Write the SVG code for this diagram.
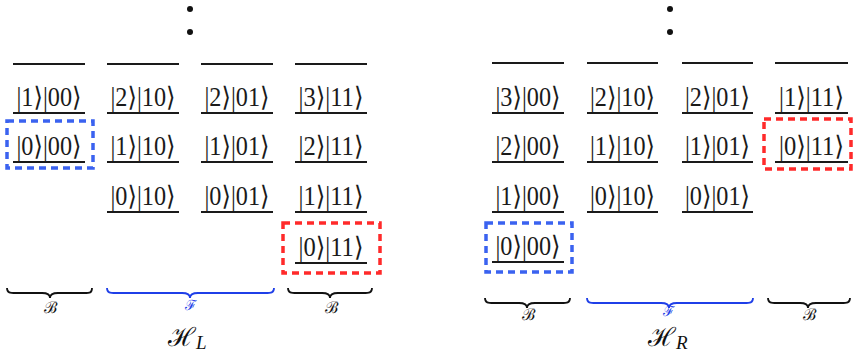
<svg xmlns="http://www.w3.org/2000/svg" width="853" height="356" viewBox="0 0 853 356">
<style>
.lv{stroke:#1a1a1a;stroke-width:2;fill:none}
.k{font-family:"Liberation Serif","DejaVu Serif",serif;font-size:27px;fill:#1a1a1a;text-anchor:middle}
.bb{fill:none;stroke:#3a62f0;stroke-width:3.5;stroke-dasharray:7 5}
.rb{fill:none;stroke:#ff2a2a;stroke-width:3.5;stroke-dasharray:7 5}
.br{fill:none;stroke:#111;stroke-width:1.8}
.bf{fill:none;stroke:#1f3fe8;stroke-width:1.8}
.lb{font-family:"DejaVu Serif","Liberation Serif",serif;font-size:16px;fill:#111;text-anchor:middle}
.lf{font-family:"DejaVu Serif","Liberation Serif",serif;font-size:14px;fill:#1f3fe8;text-anchor:middle}
.h{font-family:"DejaVu Serif","Liberation Serif",serif;font-size:26px;fill:#111}
.hs{font-family:"Liberation Serif","DejaVu Serif",serif;font-style:italic;font-size:19px;fill:#111}
</style>
<g id="dotsL"><circle cx="190" cy="9" r="3" fill="#111"/><circle cx="190" cy="32" r="3" fill="#111"/></g>
<g id="dotsR"><circle cx="670" cy="9" r="3" fill="#111"/><circle cx="670" cy="32" r="3" fill="#111"/></g>

<!-- Left H_L -->
<g id="L-col1">
<line class="lv" x1="13" y1="64" x2="85" y2="64"/>
<g id="L-1-00"><text class="k" x="49" y="106" textLength="65" lengthAdjust="spacingAndGlyphs">|1⟩|00⟩</text><line class="lv" x1="13" y1="113" x2="85" y2="113"/></g>
<g id="L-0-00"><text class="k" x="49" y="155" textLength="65" lengthAdjust="spacingAndGlyphs">|0⟩|00⟩</text><line class="lv" x1="13" y1="162" x2="85" y2="162"/><rect class="bb" x="7" y="121" width="86" height="47"/></g>
</g>
<g id="L-col2">
<line class="lv" x1="107" y1="64" x2="179" y2="64"/>
<g id="L-2-10"><text class="k" x="143" y="106" textLength="65" lengthAdjust="spacingAndGlyphs">|2⟩|10⟩</text><line class="lv" x1="107" y1="113" x2="179" y2="113"/></g>
<g id="L-1-10"><text class="k" x="143" y="155" textLength="65" lengthAdjust="spacingAndGlyphs">|1⟩|10⟩</text><line class="lv" x1="107" y1="162" x2="179" y2="162"/></g>
<g id="L-0-10"><text class="k" x="143" y="205" textLength="65" lengthAdjust="spacingAndGlyphs">|0⟩|10⟩</text><line class="lv" x1="107" y1="212" x2="179" y2="212"/></g>
</g>
<g id="L-col3">
<line class="lv" x1="201" y1="64" x2="273" y2="64"/>
<g id="L-2-01"><text class="k" x="237" y="106" textLength="65" lengthAdjust="spacingAndGlyphs">|2⟩|01⟩</text><line class="lv" x1="201" y1="113" x2="273" y2="113"/></g>
<g id="L-1-01"><text class="k" x="237" y="155" textLength="65" lengthAdjust="spacingAndGlyphs">|1⟩|01⟩</text><line class="lv" x1="201" y1="162" x2="273" y2="162"/></g>
<g id="L-0-01"><text class="k" x="237" y="205" textLength="65" lengthAdjust="spacingAndGlyphs">|0⟩|01⟩</text><line class="lv" x1="201" y1="212" x2="273" y2="212"/></g>
</g>
<g id="L-col4">
<line class="lv" x1="295" y1="64" x2="367" y2="64"/>
<g id="L-3-11"><text class="k" x="331" y="106" textLength="65" lengthAdjust="spacingAndGlyphs">|3⟩|11⟩</text><line class="lv" x1="295" y1="113" x2="367" y2="113"/></g>
<g id="L-2-11"><text class="k" x="331" y="155" textLength="65" lengthAdjust="spacingAndGlyphs">|2⟩|11⟩</text><line class="lv" x1="295" y1="162" x2="367" y2="162"/></g>
<g id="L-1-11"><text class="k" x="331" y="205" textLength="65" lengthAdjust="spacingAndGlyphs">|1⟩|11⟩</text><line class="lv" x1="295" y1="212" x2="367" y2="212"/></g>
<g id="L-0-11"><text class="k" x="331" y="256" textLength="65" lengthAdjust="spacingAndGlyphs">|0⟩|11⟩</text><line class="lv" x1="295" y1="263" x2="367" y2="263"/><rect class="rb" x="283" y="223" width="97" height="50"/></g>
</g>

<!-- Right H_R -->
<g id="R-col1">
<line class="lv" x1="492" y1="63" x2="564" y2="63"/>
<g id="R-3-00"><text class="k" x="528" y="106" textLength="65" lengthAdjust="spacingAndGlyphs">|3⟩|00⟩</text><line class="lv" x1="492" y1="113" x2="564" y2="113"/></g>
<g id="R-2-00"><text class="k" x="528" y="155" textLength="65" lengthAdjust="spacingAndGlyphs">|2⟩|00⟩</text><line class="lv" x1="492" y1="162" x2="564" y2="162"/></g>
<g id="R-1-00"><text class="k" x="528" y="205" textLength="65" lengthAdjust="spacingAndGlyphs">|1⟩|00⟩</text><line class="lv" x1="492" y1="212" x2="564" y2="212"/></g>
<g id="R-0-00"><text class="k" x="528" y="255" textLength="65" lengthAdjust="spacingAndGlyphs">|0⟩|00⟩</text><line class="lv" x1="492" y1="262" x2="564" y2="262"/><rect class="bb" x="486" y="223" width="86" height="49"/></g>
</g>
<g id="R-col2">
<line class="lv" x1="587" y1="63" x2="658" y2="63"/>
<g id="R-2-10"><text class="k" x="622.5" y="106" textLength="65" lengthAdjust="spacingAndGlyphs">|2⟩|10⟩</text><line class="lv" x1="587" y1="113" x2="658" y2="113"/></g>
<g id="R-1-10"><text class="k" x="622.5" y="155" textLength="65" lengthAdjust="spacingAndGlyphs">|1⟩|10⟩</text><line class="lv" x1="587" y1="162" x2="658" y2="162"/></g>
<g id="R-0-10"><text class="k" x="622.5" y="205" textLength="65" lengthAdjust="spacingAndGlyphs">|0⟩|10⟩</text><line class="lv" x1="587" y1="212" x2="658" y2="212"/></g>
</g>
<g id="R-col3">
<line class="lv" x1="682" y1="63" x2="753" y2="63"/>
<g id="R-2-01"><text class="k" x="717.5" y="106" textLength="65" lengthAdjust="spacingAndGlyphs">|2⟩|01⟩</text><line class="lv" x1="682" y1="113" x2="753" y2="113"/></g>
<g id="R-1-01"><text class="k" x="717.5" y="155" textLength="65" lengthAdjust="spacingAndGlyphs">|1⟩|01⟩</text><line class="lv" x1="682" y1="162" x2="753" y2="162"/></g>
<g id="R-0-01"><text class="k" x="717.5" y="205" textLength="65" lengthAdjust="spacingAndGlyphs">|0⟩|01⟩</text><line class="lv" x1="682" y1="212" x2="753" y2="212"/></g>
</g>
<g id="R-col4">
<line class="lv" x1="775" y1="63" x2="848" y2="63"/>
<g id="R-1-11"><text class="k" x="811.5" y="106" textLength="65" lengthAdjust="spacingAndGlyphs">|1⟩|11⟩</text><line class="lv" x1="775" y1="113" x2="848" y2="113"/></g>
<g id="R-0-11"><text class="k" x="811.5" y="155" textLength="65" lengthAdjust="spacingAndGlyphs">|0⟩|11⟩</text><line class="lv" x1="775" y1="162" x2="848" y2="162"/><rect class="rb" x="764" y="119" width="87" height="50"/></g>
</g>

<!-- braces -->
<g id="braces">
<path class="br" d="M7 288 C7 293 10 293 16 293 L42 293 C47 293 50 294 50 298 C50 294 53 293 58 293 L84 293 C90 293 92 293 92 288"/>
<path class="bf" d="M107 288 C107 293 110 293 116 293 L182 293 C187 293 190 294 190 298 C190 294 193 293 198 293 L265 293 C271 293 274 293 274 288"/>
<path class="br" d="M288 288 C288 293 291 293 297 293 L322 293 C327 293 330 294 330 298 C330 294 333 293 338 293 L363 293 C369 293 372 293 372 288"/>
<path class="br" d="M485 298 C485 303 488 303 494 303 L519 303 C524 303 527 304 527 308 C527 304 530 303 535 303 L561 303 C567 303 570 303 570 298"/>
<path class="bf" d="M587 298 C587 303 590 303 596 303 L661 303 C666 303 669 304 669 308 C669 304 672 303 677 303 L744 303 C750 303 753 303 753 298"/>
<path class="br" d="M768 298 C768 303 771 303 777 303 L800 303 C805 303 808 304 808 308 C808 304 811 303 816 303 L841 303 C847 303 850 303 850 298"/>
</g>
<g id="labels">
<text class="lb" x="50" y="313">ℬ</text>
<text class="lf" x="191" y="310">ℱ</text>
<text class="lb" x="331" y="313">ℬ</text>
<text class="lb" x="528" y="320">ℬ</text>
<text class="lf" x="669" y="316">ℱ</text>
<text class="lb" x="809" y="320">ℬ</text>
<text x="168" y="346"><tspan class="h">ℋ</tspan><tspan class="hs" dy="3">L</tspan></text>
<text x="648" y="346"><tspan class="h">ℋ</tspan><tspan class="hs" dy="3">R</tspan></text>
</g>
</svg>
